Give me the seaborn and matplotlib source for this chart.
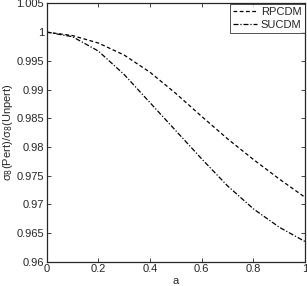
import pandas as pd
import matplotlib
matplotlib.use("Agg")
import matplotlib.pyplot as plt
import seaborn as sns

a = [0.0, 0.1, 0.2, 0.3, 0.4, 0.5, 0.6, 0.7, 0.8, 0.9, 1.0]
rpcdm = [1.0000, 0.9994, 0.9981, 0.9960, 0.9930, 0.9893, 0.9853, 0.9814, 0.9778, 0.9744, 0.9712]
sucdm = [1.0000, 0.9992, 0.9967, 0.9926, 0.9877, 0.9828, 0.9779, 0.9732, 0.9692, 0.9660, 0.9635]
xticks = [0, 0.2, 0.4, 0.6, 0.8, 1]
yticks = [0.96, 0.965, 0.97, 0.975, 0.98, 0.985, 0.99, 0.995, 1, 1.005]

df = pd.DataFrame({"a": a * 2,
                   "value": rpcdm + sucdm,
                   "model": ["RPCDM"] * len(a) + ["SUCDM"] * len(a)})

sns.set_style("ticks")
plt.rcParams["font.family"] = ["Liberation Sans", "DejaVu Sans"]
plt.rcParams["font.size"] = 8

fig = plt.figure(figsize=(3.07, 2.86), dpi=100)
ax = fig.add_axes([0.152, 0.085, 0.842, 0.903])

styles = {"RPCDM": (0, (3, 2)), "SUCDM": (0, (4, 1.5, 1, 1.5))}
for name, grp in df.groupby("model"):
    sns.lineplot(data=grp, x="a", y="value", ax=ax, color="black",
                 linewidth=0.9, linestyle=styles[name], label=name)

ax.set_xlim(0, 1)
ax.set_ylim(0.96, 1.005)
ax.set_xticks(xticks)
ax.set_xticklabels([f"{t:g}" for t in xticks])
ax.set_yticks(yticks)
ax.set_yticklabels([f"{t:g}" for t in yticks])
ax.tick_params(direction="in", top=True, right=True, length=3, width=0.6, pad=2)
for s in ax.spines.values():
    s.set_visible(True)
    s.set_linewidth(0.9)
ax.set_xlabel("a", labelpad=1)
ax.set_ylabel("σ$_8$(Pert)/σ$_8$(Unpert)", labelpad=1)

leg = ax.legend(loc="upper right", frameon=True, fancybox=False, handlelength=2.2,
                borderpad=0.3, labelspacing=0.2, handletextpad=0.3, borderaxespad=0.05)
leg.get_frame().set_edgecolor("black")
leg.get_frame().set_linewidth(0.6)

fig.savefig("out.png", dpi=100)
